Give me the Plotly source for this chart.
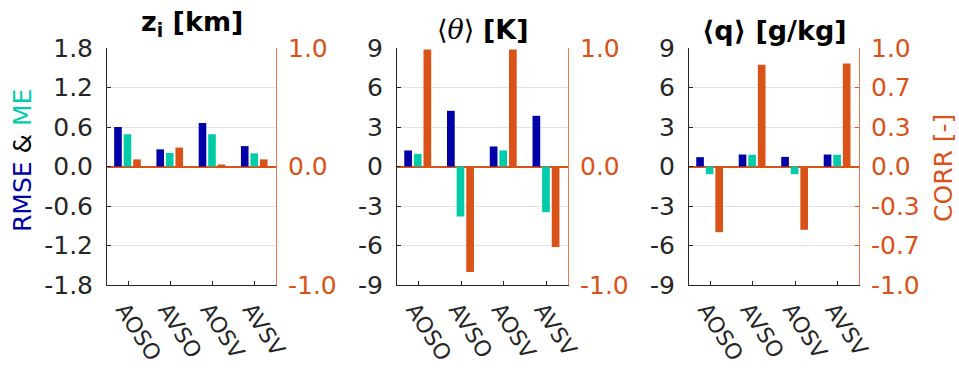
import plotly.graph_objects as go

categories = ["AOSO", "AVSO", "AOSV", "AVSV"]

# panel 1: z_i [km]
zi_rmse = [0.60, 0.26, 0.66, 0.31]
zi_me = [0.49, 0.205, 0.49, 0.20]
zi_corr = [0.06, 0.16, 0.017, 0.06]

# panel 2: <theta> [K]
th_rmse = [1.22, 4.23, 1.52, 3.85]
th_me = [0.96, -3.80, 1.22, -3.47]
th_corr = [0.987, -0.89, 0.987, -0.68]

# panel 3: <q> [g/kg]
q_rmse = [0.71, 0.91, 0.73, 0.91]
q_me = [-0.58, 0.89, -0.58, 0.89]
q_corr = [-0.554, 0.858, -0.534, 0.869]

left_ticks_1 = [-1.8, -1.2, -0.6, 0.0, 0.6, 1.2, 1.8]
left_ticks_23 = [-9, -6, -3, 0, 3, 6, 9]
right_ticks_12 = [-1.0, 0.0, 1.0]
right_ticks_3 = [-1.0, -2/3, -1/3, 0.0, 1/3, 2/3, 1.0]

titles = ["<b>z<sub>i</sub> [km]</b>",
          "<span style=\"font-family:DejaVu Serif\">⟨<i>θ</i>⟩</span> <b>[K]</b>",
          "<b>⟨q⟩ [g/kg]</b>"]

BLUE = "#0000A8"
TEAL = "#00CCAA"
ORANGE = "#D95319"
AXC = "#262626"
FONT = "DejaVu Sans"
TS = 25

W, H = 959, 372
xdom = [(107, 276), (397, 568), (689, 859)]
ytop, ybot = 48, 285
ydom = [1 - ybot / H, 1 - ytop / H]

panels = [
    (zi_rmse, zi_me, zi_corr, [-1.8, 1.8], left_ticks_1, "{:.1f}", right_ticks_12),
    (th_rmse, th_me, th_corr, [-9, 9], left_ticks_23, "{:d}", right_ticks_12),
    (q_rmse, q_me, q_corr, [-9, 9], left_ticks_23, "{:d}", right_ticks_3),
]

fig = go.Figure()
layout = {}
bw = 0.18
for i, (rm, me, co, yr, lt, fmt, rt) in enumerate(panels):
    xn = "x" if i == 0 else f"x{i+1}"
    yl = f"y{2*i+1}" if i > 0 else "y"
    yr_name = f"y{2*i+2}"
    fig.add_trace(go.Bar(x=categories, y=rm, xaxis=xn, yaxis=yl, marker_color=BLUE,
                         width=bw, offset=-0.33, marker_line_width=0, showlegend=False))
    fig.add_trace(go.Bar(x=categories, y=me, xaxis=xn, yaxis=yl, marker_color=TEAL,
                         width=bw, offset=-0.105, marker_line_width=0, showlegend=False))
    fig.add_trace(go.Bar(x=categories, y=co, xaxis=xn, yaxis=yr_name, marker_color=ORANGE,
                         width=bw, offset=0.12, marker_line_width=0, showlegend=False))
    xkey = "xaxis" if i == 0 else f"xaxis{i+1}"
    ylkey = "yaxis" if i == 0 else f"yaxis{2*i+1}"
    yrkey = f"yaxis{2*i+2}"
    d = (xdom[i][0] / W, xdom[i][1] / W)
    layout[xkey] = dict(domain=d, anchor=yl, type="category", range=[-0.5, 3.5],
                        showline=True, linecolor=AXC, linewidth=1, ticks="inside",
                        ticklen=4, tickcolor=AXC, tickangle=57, showgrid=False,
                        ticklabelshift=-4, ticklabelstandoff=2, automargin=False,
                        tickfont=dict(family=FONT, size=22, color=AXC),
                        categoryorder="array", categoryarray=categories)
    layout[ylkey] = dict(domain=ydom, anchor=xn, range=yr, tickvals=lt,
                         ticktext=[fmt.format(v) for v in lt],
                         showline=True, linecolor=AXC, linewidth=1, ticks="inside",
                         ticklen=4, tickcolor=AXC, showgrid=True, gridcolor="#E3E3E3",
                         gridwidth=1, zeroline=False, ticklabelstandoff=8, automargin=False,
                         tickfont=dict(family=FONT, size=TS, color=AXC))
    layout[yrkey] = dict(domain=ydom, anchor=xn, overlaying=yl, side="right", range=[-1, 1],
                         tickvals=rt, ticktext=[f"{v:.1f}" for v in rt], showline=True,
                         linecolor="rgba(217,83,25,0.75)", linewidth=1, ticks="inside",
                         ticklen=4, tickcolor=ORANGE, showgrid=False, zeroline=True,
                         zerolinecolor=ORANGE, zerolinewidth=1.5, ticklabelstandoff=6,
                         automargin=False,
                         tickfont=dict(family=FONT, size=TS, color=ORANGE))

annotations = []
title_y = [24, 29, 30]
for i, t in enumerate(titles):
    cx = (xdom[i][0] + xdom[i][1]) / 2 / W
    annotations.append(dict(text=t, x=cx, y=1 - title_y[i] / H, xref="paper", yref="paper",
                            xanchor="center", yanchor="middle", showarrow=False,
                            font=dict(family=FONT, size=27, color="#000000")))
annotations.append(dict(text=f"<span style=\"color:{BLUE}\">RMSE</span> &amp; "
                             f"<span style=\"color:{TEAL}\">ME</span>",
                        x=22 / W, y=1 - 161 / H, xref="paper", yref="paper",
                        xanchor="center", yanchor="middle", textangle=-90, showarrow=False,
                        font=dict(family=FONT, size=TS, color="#000000")))
annotations.append(dict(text="CORR [-]", x=943 / W, y=1 - 168 / H, xref="paper", yref="paper",
                        xanchor="center", yanchor="middle", textangle=-90, showarrow=False,
                        font=dict(family=FONT, size=TS, color=ORANGE)))

fig.update_layout(**layout)
fig.update_layout(width=W, height=H, margin=dict(l=0, r=0, t=0, b=0, autoexpand=False),
                  plot_bgcolor="white", paper_bgcolor="white", barmode="overlay",
                  annotations=annotations, font=dict(family=FONT))
fig.write_html("out.html")
